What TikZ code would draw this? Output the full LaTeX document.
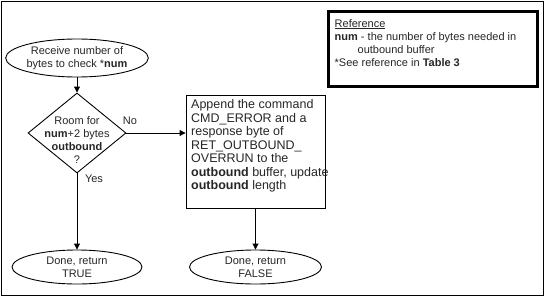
\documentclass[tikz,border=0pt]{standalone}
\usepackage{fontspec}
\setmainfont{Liberation Sans}
\usetikzlibrary{shapes.geometric,arrows.meta}
\begin{document}
\begin{tikzpicture}[x=1pt,y=-1pt,
  every node/.style={font=\fontsize{11}{13}\selectfont, text=black!85},
  term/.style={draw, ellipse, line width=0.9pt, inner sep=0pt, align=center},
  dia/.style={draw, diamond, line width=0.9pt, inner sep=0pt, minimum width=98pt, minimum height=80pt},
  proc/.style={draw, rectangle, line width=0.9pt, inner sep=0pt},
  lbl/.style={inner sep=0pt},
  arr/.style={line width=0.9pt, -{Triangle[length=6pt,width=6pt]}}
]
\useasboundingbox (0,0) rectangle (545,297);
\node[draw, line width=1pt, inner sep=0pt, minimum width=542pt, minimum height=294pt] (frame) at (272,148) {};

\node[term, minimum width=130pt, minimum height=38pt] (start) at (77,58) {Receive number of\\bytes to check *\textbf{num}};
\node[dia] (dec) at (77,133) {};
\node[lbl, align=center] (dect) at (77,140) {Room for\\\textbf{num}+2 bytes\\\textbf{outbound}\\?};
\node[proc, minimum width=139pt, minimum height=113pt] (box) at (255.5,151.5) {};
\node[lbl, anchor=north west, align=left, font=\fontsize{12.5}{13.5}\selectfont] (boxt) at (191,99.5) {Append the command\\CMD\_ERROR and a\\response byte of\\RET\_OUTBOUND\_\\OVERRUN to the\\\textbf{outbound} buffer, update\\\textbf{outbound} length};
\node[term, minimum width=130pt, minimum height=34pt] (true) at (77,267) {Done, return\\TRUE};
\node[term, minimum width=132pt, minimum height=34pt] (false) at (255.5,267) {Done, return\\FALSE};

\node[lbl] (no) at (130,121) {No};
\node[lbl] (yes) at (94,179) {Yes};

\node[draw, line width=2.6pt, inner sep=0pt, minimum width=209pt, minimum height=75pt] (ref) at (433,49) {};
\node[lbl, anchor=north west, align=left] (reft) at (334.5,19) {\underline{Reference}\\\textbf{num} - the number of bytes needed in\\\hspace*{23pt}outbound buffer\\*See reference in \textbf{Table 3}};

\draw[arr] (start) -- (dec.north);
\draw[arr] (dec.east) -- (dec.east -| box.west);
\draw[arr] (dec.south) -- (true.north);
\draw[arr] (box.south) -- (false.north);
\end{tikzpicture}
\end{document}
